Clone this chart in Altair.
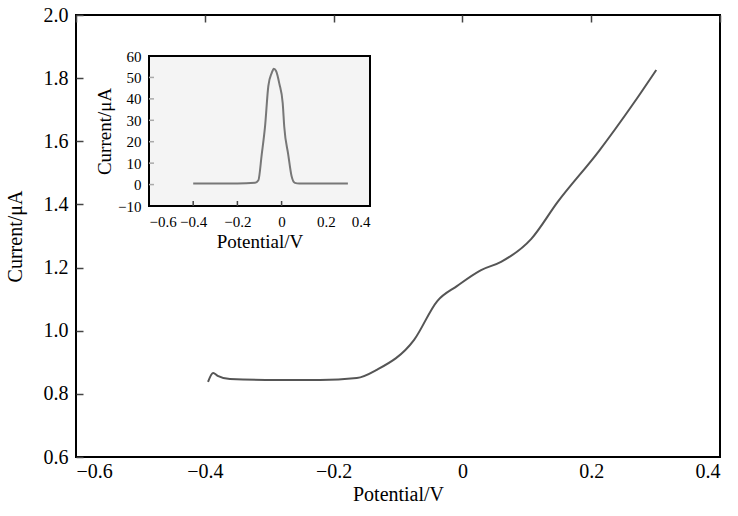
import altair as alt
import pandas as pd

# Main curve
main_x = [-0.395, -0.387, -0.380, -0.361, -0.288, -0.221, -0.164, -0.133, -0.075, -0.039, -0.008, 0.029, 0.060, 0.107, 0.148, 0.212, 0.265, 0.301]
main_y = [0.838, 0.866, 0.857, 0.847, 0.844, 0.844, 0.850, 0.876, 0.971, 1.094, 1.142, 1.192, 1.218, 1.291, 1.408, 1.569, 1.718, 1.826]

# Inset curve
ins_x = [-0.40, -0.20, -0.12, -0.105, -0.09, -0.075, -0.06, -0.045, -0.035, -0.025, -0.01, 0.005, 0.012, 0.03, 0.045, 0.06, 0.08, 0.30]
ins_y = [0.5, 0.5, 0.8, 2, 14, 27, 46, 52, 54, 53, 47, 38, 27, 14, 4, 0.8, 0.5, 0.5]

main_xvals = [-0.6, -0.4, -0.2, 0, 0.2, 0.4]
main_yvals = [0.6, 0.8, 1.0, 1.2, 1.4, 1.6, 1.8, 2.0]
ins_xticks = [-0.4, -0.2, 0]
ins_yticks = [0, 10, 20, 30, 40, 50]

W, H = 644, 442
FONT = "Liberation Serif"
MINUS = "\u2212\u2009"

main_df = pd.DataFrame({"x": main_x, "y": main_y})
ins_df = pd.DataFrame({"x": ins_x, "y": ins_y})

mx = alt.Scale(domain=[-0.6, 0.4], nice=False, zero=False, range=[0, W])
my = alt.Scale(domain=[0.6, 2.0], nice=False, zero=False, range=[H, 0])

base = dict(ticks=False, tickSize=0, domain=False, titleFontWeight="normal", labelOverlap=False,
            labelColor="black", titleColor="black", labelFont=FONT, titleFont=FONT)

# main axes: short dashed grid segments act as the inward tick marks
ax_mx = alt.Axis(orient="bottom", offset=0, values=main_xvals,
                 grid=True, gridColor="#444444", gridWidth=1.5, gridDash=[7, 2000], gridOpacity=1,
                 labelExpr="datum.value == 0 ? '0' : replace(format(datum.value, '.1f'), '-', '" + MINUS + "')",
                 labelFontSize=20, labelPadding=4, titleFontSize=20, titlePadding=3, **base)
ax_my = alt.Axis(orient="left", offset=0, values=main_yvals, format=".1f",
                 grid=True, gridColor="#444444", gridWidth=1.5, gridDash=[7, 2000], gridOpacity=1,
                 labelFontSize=20, labelPadding=8, titleFontSize=20, titlePadding=18, **base)

MX_T = "Potential/V"
MY_T = "Current/\u03bcA"

main_curve = alt.Chart(main_df).mark_line(color="#555555", strokeWidth=2, interpolate="monotone").encode(
    x=alt.X("x:Q", scale=mx, title=MX_T, axis=ax_mx),
    y=alt.Y("y:Q", scale=my, title=MY_T, axis=ax_my),
)

# Inset in pixel ranges inside the main plot area
IL, IR, IT, IB = 73, 294, 41, 191
ix = alt.Scale(domain=[-0.6, 0.4], nice=False, zero=False, range=[IL, IR])
iy = alt.Scale(domain=[-10, 60], nice=False, zero=False, range=[IB, IT])

ax_ix = alt.Axis(orient="bottom", offset=IB - H, zindex=2, grid=False, values=main_xvals,
                 labelExpr="datum.value == 0 ? '0' : replace(format(datum.value, '.1f'), '-', '" + MINUS + "')",
                 labelFontSize=15, labelPadding=8, titleFontSize=19, titlePadding=3, **base)
ax_iy = alt.Axis(orient="left", offset=-IL, zindex=2, grid=False, values=[-10, 0, 10, 20, 30, 40, 50, 60],
                 labelExpr="replace(format(datum.value, 'd'), '-', '" + MINUS + "')",
                 labelFontSize=15, labelPadding=8, titleFontSize=19, titlePadding=3, **base)

frame_df = pd.DataFrame({"x0": [-0.6], "x1": [0.4], "y0": [-10], "y1": [60]})
ins_frame = alt.Chart(frame_df).mark_rect(fill="#f4f4f4", stroke="black", strokeWidth=2).encode(
    x=alt.X("x0:Q", scale=ix, title=MX_T, axis=ax_ix), x2="x1:Q",
    y=alt.Y("y0:Q", scale=iy, title=MY_T, axis=ax_iy), y2="y1:Q",
)

ins_curve = alt.Chart(ins_df).mark_line(color="#777777", strokeWidth=2, interpolate="monotone").encode(
    x=alt.X("x:Q", scale=ix, axis=None), y=alt.Y("y:Q", scale=iy, axis=None))

ins_xt = alt.Chart(pd.DataFrame({"v": ins_xticks})).mark_rule(color="#444444", strokeWidth=1.5).encode(
    x=alt.X("v:Q", scale=ix, axis=None), y=alt.value(IB), y2=alt.value(IB - 5))
ins_yt = alt.Chart(pd.DataFrame({"v": ins_yticks})).mark_rule(color="#aaaaaa", strokeWidth=1.5).encode(
    y=alt.Y("v:Q", scale=iy, axis=None), x=alt.value(IL), x2=alt.value(IL + 5))

chart = alt.layer(main_curve, ins_frame, ins_curve, ins_xt, ins_yt).resolve_scale(
    x="independent", y="independent").properties(
    width=W, height=H,
    autosize=alt.AutoSizeParams(type="none"),
    padding={"left": 76, "top": 15, "right": 18, "bottom": 59},
).configure_view(stroke="black", strokeWidth=2)

chart.save("out.html", embed_options={"renderer": "svg", "actions": False})
